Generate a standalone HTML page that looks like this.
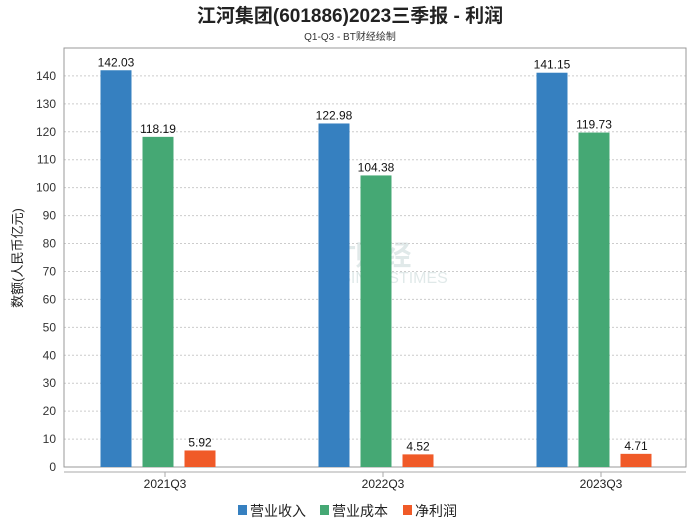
<!DOCTYPE html>
<html><head><meta charset="utf-8"><style>
body{margin:0;background:#fff;}
svg text{font-family:"Liberation Sans","Noto Sans CJK SC",sans-serif;}
</style></head><body>
<svg id="chart" width="700" height="524" xmlns="http://www.w3.org/2000/svg">
<text x="350" y="22" text-anchor="middle" font-size="19" font-weight="bold" fill="#222">江河集团(601886)2023三季报 - 利润</text>
<text x="350" y="40" text-anchor="middle" font-size="10" fill="#333">Q1-Q3 - BT财经绘制</text>
<g opacity="0.25">
<text x="318" y="265" font-size="28" font-family="Liberation Serif" fill="#8aa" font-weight="bold">BT财经</text>
<text x="318" y="283" font-size="16" font-family="Liberation Serif" fill="#8aa">BUSINESSTIMES</text>
</g>
<g id="grid"></g>
<rect x="64" y="48" width="622" height="419" fill="none" stroke="#999"/>
<line x1="64" y1="472" x2="686" y2="472" stroke="#aaa"/>
<g id="bars"></g>
<text transform="translate(22,258) rotate(-90)" text-anchor="middle" font-size="13" fill="#222">数额(人民币亿元)</text>
<g font-size="14" fill="#222">
<g><rect x="238" y="505" width="9" height="10" fill="#3680c0"/><text x="250" y="516">营业收入</text></g>
<g><rect x="320" y="505" width="9" height="10" fill="#45a874"/><text x="332" y="516">营业成本</text></g>
<g><rect x="403" y="505" width="9" height="10" fill="#f05a28"/><text x="415" y="516">净利润</text></g>
</g>
</svg>
<script>
const categories=["2021Q3","2022Q3","2023Q3"];
const revenue=[142.03,122.98,141.15];
const cost=[118.19,104.38,119.73];
const netProfit=[5.92,4.52,4.71];
const yTicks=[0,10,20,30,40,50,60,70,80,90,100,110,120,130,140];
const NS="http://www.w3.org/2000/svg";
const y=v=>467-v*(419/150);
const xc=i=>158+i*218;
const grid=document.getElementById('grid');
yTicks.forEach(t=>{
 const l=document.createElementNS(NS,'line');
 l.setAttribute('x1',64);l.setAttribute('x2',686);l.setAttribute('y1',y(t));l.setAttribute('y2',y(t));
 l.setAttribute('stroke','#ccc');l.setAttribute('stroke-dasharray','2,2');
 
 
 grid.appendChild(l);
 const tx=document.createElementNS(NS,'text');
 tx.setAttribute('x',56);tx.setAttribute('y',y(t)+4);tx.setAttribute('text-anchor','end');tx.setAttribute('font-size','12');tx.setAttribute('fill','#333');
 tx.textContent=t;
 
 
 grid.appendChild(tx);
});
const bars=document.getElementById('bars');
const series=[[revenue,'#3680c0',-42,'revenue'],[cost,'#45a874',0,'cost'],[netProfit,'#f05a28',42,'net-profit']];
categories.forEach((c,i)=>{
 series.forEach(([arr,col,off,nm])=>{
  const v=arr[i];const cx=xc(i)+off;
  const r=document.createElementNS(NS,'rect');
  r.setAttribute('x',cx-15.5);r.setAttribute('width',31);r.setAttribute('y',y(v));r.setAttribute('height',467-y(v));r.setAttribute('fill',col);
  
  
  bars.appendChild(r);
  const t=document.createElementNS(NS,'text');
  t.setAttribute('x',cx);t.setAttribute('y',y(v)-4);t.setAttribute('text-anchor','middle');t.setAttribute('font-size','12');t.setAttribute('fill','#111');
  t.textContent=v.toFixed(2);
  
  
  bars.appendChild(t);
 });
 const tk=document.createElementNS(NS,'line');
 tk.setAttribute('x1',xc(i)+7);tk.setAttribute('x2',xc(i)+7);tk.setAttribute('y1',472);tk.setAttribute('y2',477);tk.setAttribute('stroke','#aaa');
 
 
 bars.appendChild(tk);
 const lb=document.createElementNS(NS,'text');
 lb.setAttribute('x',xc(i)+7);lb.setAttribute('y',488);lb.setAttribute('text-anchor','middle');lb.setAttribute('font-size','12');lb.setAttribute('fill','#222');
 lb.textContent=c;
 
 
 bars.appendChild(lb);
});
</script>
</body></html>
